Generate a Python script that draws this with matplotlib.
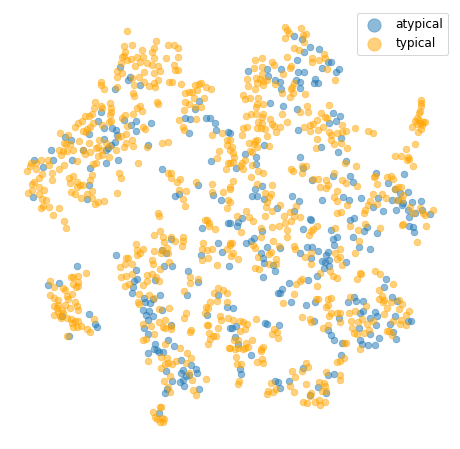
import numpy as np
import matplotlib
matplotlib.use('Agg')
import matplotlib.pyplot as plt

# embedding, one block per quadrant (3 units = 1 px)
nw_typical = [(382,94),(373,139),(397,136),(469,124),(505,136),(523,135),(533,145),(463,145),(456,157),(425,151),(376,157),(373,168),(367,170),(412,170),(394,177),(380,180),(430,170),(420,185),(440,190),(455,195),(462,175),(499,175),(533,170),(523,195),(475,197),(406,199),(362,190),(351,213),(365,220),(352,232),(433,215),(463,220),(479,214),(526,211),(535,211),(418,232),(395,233),(403,256),(433,247),(448,259),(466,262),(473,241),(461,250),(507,247),(517,247),(544,253),(302,247),(304,254),(313,268),(351,260),(400,279),(403,289),(470,307),(473,313),(584,256),(597,253),(603,248),(619,262),(634,268),(592,271),(576,276),(566,277),(556,280),(581,293),(556,306),(568,313),(584,321),(604,322),(613,295),(553,330),(421,318),(411,325),(425,332),(400,343),(286,307),(304,318),(307,324),(283,325),(331,310),(334,325),(334,335),(331,345),(275,343),(255,349),(268,348),(245,364),(233,370),(226,382),(278,370),(270,380),(262,387),(248,393),(258,396),(374,345),(366,355),(333,362),(326,367),(307,374),(380,378),(379,403),(364,408),(355,411),(395,421),(378,428),(371,440),(400,439),(428,381),(436,386),(440,442),(538,361),(587,357),(549,380),(553,391),(181,400),(203,404),(238,424),(193,430),(199,432),(211,432),(296,421),(268,430),(318,430),(190,453),(178,450),(200,453),(220,451),(250,450),(254,463),(271,456),(288,443),(295,440),(307,450),(328,438),(347,451),(293,467),(306,465),(326,471),(184,466),(124,481),(143,481),(108,488),(92,488),(146,496),(90,499),(108,507),(82,514),(193,496),(178,508),(232,484),(287,490),(278,493),(415,490),(487,428),(505,427),(356,520),(364,533),(157,519),(157,541),(127,522),(117,533),(103,546),(96,553),(118,560),(96,570),(133,571),(85,580),(118,582),(125,597),(137,601),(128,617),(122,625),(148,622),(178,625),(160,646),(193,664),(218,527),(208,535),(210,550),(230,545),(240,556),(250,555),(232,562),(213,577),(226,583),(277,526),(271,541),(277,572),(262,582),(277,595),(244,595),(284,613),(295,607),(311,604),(350,580),(505,520),(512,520),(512,533),(541,537),(530,547),(589,546),(637,553),(538,569),(559,574),(637,577),(670,577),(548,597),(556,617),(681,625),(652,475),(658,454),(684,490),(677,508),(681,420),(680,435),(690,450),(665,400),(637,405),(473,640),(476,647),(616,660),(622,661),(628,670),(690,560),(685,600)]
nw_atypical = [(361,201),(390,232),(385,240),(421,256),(346,268),(598,303),(584,328),(304,335),(295,364),(373,361),(556,355),(571,358),(618,355),(631,355),(646,370),(649,391),(684,397),(568,399),(313,385),(335,385),(349,391),(268,403),(352,406),(409,364),(394,376),(409,394),(452,370),(196,411),(214,421),(313,418),(346,427),(334,436),(325,445),(445,436),(154,451),(248,451),(319,451),(160,481),(103,481),(130,502),(217,481),(271,505),(319,490),(355,481),(487,508),(268,556),(595,556),(100,592),(262,598),(526,589),(538,583),(640,586),(664,601),(634,484),(684,670)]

ne_typical = [(166,81),(171,90),(178,100),(214,85),(229,102),(219,106),(166,115),(223,127),(193,145),(207,150),(172,170),(281,162),(285,175),(247,175),(247,187),(268,180),(75,181),(97,175),(127,187),(133,196),(184,198),(181,205),(292,208),(73,205),(95,202),(160,222),(51,238),(79,235),(95,223),(91,238),(100,243),(111,241),(100,256),(82,250),(54,259),(76,268),(136,253),(157,280),(187,262),(193,250),(184,268),(190,280),(181,292),(226,283),(315,240),(40,286),(46,298),(61,295),(85,295),(100,313),(82,313),(79,322),(232,319),(211,335),(235,335),(298,316),(274,340),(286,352),(262,360),(292,355),(49,349),(64,343),(79,343),(100,343),(97,352),(121,358),(157,343),(172,367),(127,373),(133,379),(151,382),(85,367),(97,370),(82,385),(94,385),(106,388),(40,385),(52,382),(37,405),(137,397),(112,409),(223,382),(241,376),(250,373),(241,394),(265,391),(280,382),(298,395),(337,376),(322,400),(304,404),(337,395),(349,394),(376,385),(415,394),(430,400),(262,418),(304,421),(313,433),(334,430),(352,445),(259,445),(118,439),(58,430),(76,424),(82,421),(61,454),(67,457),(73,433),(82,442),(0,420),(5,440),(10,460),(13,470),(0,490),(10,485),(45,481),(37,490),(31,497),(40,508),(67,496),(85,514),(99,520),(64,532),(82,553),(10,544),(127,556),(0,567),(0,605),(184,508),(190,514),(217,499),(229,499),(217,520),(250,538),(265,538),(271,562),(289,541),(295,556),(289,565),(322,574),(337,541),(349,549),(382,559),(379,499),(346,490),(311,520),(433,532),(436,529),(442,553),(472,532),(484,529),(490,538),(505,562),(514,562),(430,583),(457,583),(469,595),(421,604),(442,613),(415,616),(406,631),(403,640),(406,671),(352,616),(334,637),(322,640),(313,592),(322,604),(106,580),(124,583),(118,592),(112,607),(109,622),(127,634),(151,616),(106,649),(163,649),(181,637),(199,619),(193,649),(211,652),(184,664),(166,670),(22,649),(49,634),(58,652),(70,664),(496,469),(514,469),(535,472),(538,478),(532,481),(550,499),(529,448),(556,433),(547,382),(562,373),(570,370),(580,366),(565,397),(574,388),(586,367),(574,300),(574,310),(574,318),(571,332),(567,340),(562,355),(556,364),(568,360),(575,376),(610,631),(520,671),(580,640),(540,620),(520,585),(500,600),(517,600),(571,625),(548,640),(586,646),(494,568)]
ne_atypical = [(193,109),(217,118),(221,157),(241,142),(268,148),(202,181),(295,187),(304,187),(277,205),(55,214),(112,208),(154,208),(115,229),(205,217),(223,217),(136,241),(151,247),(199,241),(211,247),(154,268),(211,265),(256,238),(253,250),(265,250),(328,208),(319,217),(121,310),(160,319),(202,328),(310,340),(331,349),(319,364),(298,370),(205,391),(334,415),(103,436),(274,442),(325,457),(46,463),(79,472),(79,493),(19,505),(211,472),(349,484),(220,505),(439,520),(361,529),(370,547),(247,541),(310,529),(523,523),(475,550),(494,568),(511,578),(535,577),(97,559),(76,568),(67,589),(82,589),(103,598),(187,589),(208,604),(277,601),(340,592),(358,601),(394,595),(445,595),(430,620),(460,634),(487,601),(505,601),(499,631),(517,616),(547,607),(574,604),(142,625),(193,634),(241,658),(244,661),(361,661),(373,655),(37,655),(25,667),(535,631),(556,640),(577,631),(601,643),(538,652),(520,610),(0,398),(0,670)]

sw_typical = [(199,10),(151,169),(259,145),(214,157),(220,155),(235,153),(235,170),(220,178),(163,187),(190,188),(196,196),(235,184),(229,187),(151,211),(202,214),(205,223),(217,208),(163,220),(175,226),(163,244),(175,241),(172,250),(196,241),(187,256),(226,232),(232,244),(235,256),(211,250),(163,271),(175,262),(181,274),(190,265),(184,280),(202,280),(214,283),(217,295),(226,289),(235,289),(220,307),(232,307),(244,304),(262,313),(271,322),(283,283),(202,334),(409,58),(412,76),(430,73),(421,85),(412,91),(379,100),(385,100),(376,118),(361,127),(397,118),(364,157),(379,154),(397,148),(376,184),(388,178),(442,151),(430,181),(442,169),(457,148),(469,157),(478,169),(416,208),(415,232),(418,238),(448,211),(463,220),(478,253),(508,250),(463,31),(481,19),(490,37),(493,50),(514,37),(526,49),(550,37),(550,49),(547,64),(463,79),(487,76),(484,85),(502,70),(505,85),(457,106),(460,118),(508,112),(481,133),(553,199),(559,265),(553,280),(430,298),(454,304),(478,292),(496,286),(490,307),(496,310),(514,313),(463,328),(430,346),(439,343),(496,358),(541,370),(562,385),(574,400),(484,397),(502,400),(529,409),(517,418),(496,418),(484,430),(505,415),(559,415),(511,454),(493,469),(505,487),(511,502),(580,496),(589,511),(619,463),(445,409),(577,466),(568,445),(571,157),(571,175),(595,163),(610,55),(607,73),(620,75),(637,73),(625,100),(607,106),(652,121),(680,73),(690,55),(618,245),(631,232),(625,250),(616,265),(643,205),(655,190),(670,196),(680,205),(652,229),(682,232),(661,274),(664,286),(684,280),(622,299),(625,299),(655,310),(569,322),(574,316),(628,325),(631,343),(649,334),(640,334),(625,358),(686,370),(628,3),(646,13),(481,547),(484,547),(460,562),(466,577),(472,583),(487,580),(493,583),(481,592),(490,592),(514,304)]
sw_atypical = [(232,124),(145,181),(178,175),(268,268),(286,298),(292,307),(208,334),(187,274),(349,91),(514,43),(487,76),(499,85),(493,124),(517,124),(409,136),(412,163),(403,169),(400,187),(397,205),(466,166),(433,220),(436,232),(451,235),(460,223),(481,211),(430,256),(448,258),(487,256),(439,271),(460,274),(445,286),(514,301),(433,310),(445,328),(505,346),(466,358),(463,373),(472,376),(478,382),(490,382),(523,364),(445,385),(544,406),(550,436),(544,445),(574,421),(587,433),(592,445),(568,451),(559,454),(550,466),(541,472),(553,484),(517,469),(496,505),(502,493),(598,493),(497,439),(478,565),(565,139),(562,211),(595,172),(607,10),(655,55),(667,82),(603,91),(622,271),(655,211),(682,247),(687,124),(690,310)]

se_typical = [(34,22),(94,10),(94,37),(127,7),(148,3),(172,16),(172,37),(130,49),(148,64),(70,61),(76,70),(124,82),(118,88),(85,97),(139,103),(25,103),(10,85),(3,94),(7,55),(0,60),(139,118),(118,118),(76,130),(88,133),(193,64),(196,73),(226,97),(244,85),(244,118),(238,31),(244,19),(250,13),(262,3),(316,10),(361,3),(388,49),(385,16),(451,10),(376,85),(331,73),(316,85),(322,103),(331,97),(337,121),(301,139),(310,154),(322,160),(271,145),(199,178),(211,169),(217,163),(262,184),(193,208),(160,235),(259,223),(265,223),(304,220),(295,223),(295,241),(289,247),(361,217),(304,265),(298,274),(322,265),(331,265),(331,292),(217,277),(241,283),(244,292),(280,310),(295,301),(358,265),(376,259),(364,289),(367,310),(385,292),(397,283),(391,145),(394,148),(382,163),(436,139),(451,148),(490,178),(448,196),(448,223),(457,214),(463,226),(460,232),(472,250),(484,232),(463,268),(508,226),(517,238),(508,253),(529,271),(538,259),(514,286),(529,301),(511,298),(490,289),(472,319),(478,319),(487,331),(373,325),(382,328),(403,325),(412,298),(418,316),(430,289),(409,244),(391,373),(349,355),(562,52),(589,3),(517,0),(343,400),(322,412),(331,409),(229,415),(235,426),(217,439),(187,439),(196,457),(289,442),(331,451),(331,466),(229,478),(268,472),(283,475),(286,484),(289,499),(277,499),(124,475),(181,484),(193,502),(115,499),(112,508),(130,502),(139,493),(244,505),(241,514),(220,532),(232,535),(256,532),(268,526),(271,541),(286,530),(77,281),(10,286),(31,289),(40,292),(52,298),(46,313),(31,319),(133,313),(127,328),(145,340),(142,322),(67,346),(49,355),(55,367),(40,373),(46,370),(25,370),(16,373),(0,370),(25,346),(13,346),(94,373),(100,367),(94,379),(97,403),(82,412),(100,415),(19,397),(22,418),(34,418),(28,469),(25,478),(343,355)]
se_atypical = [(22,3),(97,19),(220,13),(304,16),(403,19),(412,7),(370,37),(442,25),(553,22),(538,3),(550,7),(310,43),(322,37),(313,61),(388,67),(421,73),(49,55),(64,49),(73,40),(112,67),(151,70),(94,85),(100,100),(103,115),(130,121),(136,139),(100,157),(232,67),(247,67),(265,79),(211,85),(244,100),(295,82),(289,91),(298,106),(277,109),(286,112),(349,112),(283,130),(298,124),(262,154),(235,166),(178,175),(157,193),(145,205),(151,205),(184,232),(229,241),(256,232),(355,232),(373,217),(379,229),(400,229),(463,187),(469,163),(487,217),(502,229),(400,259),(391,265),(421,280),(436,262),(442,274),(496,274),(439,301),(481,298),(490,322),(535,289),(544,289),(328,280),(253,289),(106,295),(112,298),(148,301),(17,304),(7,310),(295,316),(304,331),(313,346),(337,355),(388,310),(421,328),(391,346),(397,358),(415,361),(436,361),(448,340),(499,343),(334,391),(16,337),(25,358),(63,391),(31,433),(34,448),(220,430),(295,451),(313,448),(178,469),(136,469),(145,472),(151,490),(265,487),(289,505),(241,511),(10,250)]

labels = ['atypical', 'typical']
colors = ['tab:blue', 'orange']


def join(nw, ne, sw, se):
    # the quadrant blocks are local, so shift them to one frame
    parts = [np.array(nw, float),
             np.array(ne, float) + [690, 0],
             np.array(sw, float) + [0, 675],
             np.array(se, float) + [690, 675]]
    return np.vstack(parts)


atypical = join(nw_atypical, ne_atypical, sw_atypical, se_atypical)
typical = join(nw_typical, ne_typical, sw_typical, se_typical)

fig = plt.figure(figsize=(460 / 72, 449 / 72), dpi=72)
ax = fig.add_axes([0, 0, 1, 1])
ax.scatter(atypical[:, 0], atypical[:, 1], s=44, c=colors[0], alpha=0.5, linewidths=0.8, label=labels[0])
ax.scatter(typical[:, 0], typical[:, 1], s=44, c=colors[1], alpha=0.5, linewidths=0.8, label=labels[1])
ax.set_xlim(0, 1380)
ax.set_ylim(1347, 0)
ax.axis('off')
ax.legend(loc='upper right', bbox_to_anchor=(0.974, 0.971), borderaxespad=0, fontsize=12, markerscale=2)

fig.savefig('out.png', dpi=72)
